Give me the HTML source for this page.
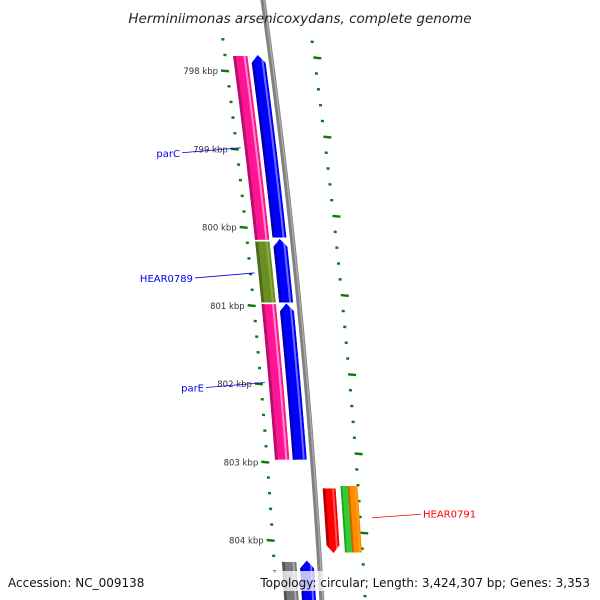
<!DOCTYPE html>
<html><head><meta charset="utf-8"><style>
html,body{margin:0;padding:0;background:#fff;}
svg{display:block;font-family:"DejaVu Sans","Liberation Sans",sans-serif;}
</style></head><body>
<svg id="map" width="600" height="600" viewBox="0 0 600 600">
<defs id="defs"></defs>
<g id="layer"></g>
<text x="300" y="23" text-anchor="middle" font-size="13.5" font-style="italic" fill="#222">Herminiimonas arsenicoxydans, complete genome</text>
<rect x="4" y="571" width="142" height="20" fill="#fff" fill-opacity="0.75"/>
<text x="8" y="587" font-size="12" fill="#111">Accession: NC_009138</text>
<rect x="258" y="571" width="336" height="20" fill="#fff" fill-opacity="0.75"/>
<text x="590" y="587" text-anchor="end" font-size="12" fill="#111">Topology: circular; Length: 3,424,307 bp; Genes: 3,353</text>
</svg>
<script>
// Data
const majorTicksKbp = [798, 799, 800, 801, 802, 803, 804];
const tickLabels = ["798 kbp", "799 kbp", "800 kbp", "801 kbp", "802 kbp", "803 kbp", "804 kbp"];
const featureNames = ["pink-gene-parC", "blue-gene-1", "gene-HEAR0789", "blue-gene-2", "pink-gene-parE", "blue-gene-3", "gray-gene", "blue-gene-4", "gene-HEAR0791", "green-gene", "orange-gene"];
const featureStart = [797.815, 797.80, 800.185, 800.15, 800.985, 800.975, 804.28, 804.26, 803.34, 803.31, 803.31];
const featureEnd = [800.165, 800.135, 800.965, 800.965, 802.975, 802.975, 804.95, 804.95, 804.17, 804.16, 804.16];
const featureStrand = [0, 1, 0, 1, 0, 1, 0, 1, -1, 0, 0];
const featureLane = [0, 1, 0, 1, 0, 1, 0, 1, 2, 3, 4];
const featureBase = ["#ff1493", "#0000ff", "#6b8e23", "#0000ff", "#ff1493", "#0000ff", "#777777", "#0000ff", "#ff0000", "#32cd32", "#ff8c00"];
const featureDark = ["#b8106a", "#0000b0", "#4e6a1a", "#0000b0", "#b8106a", "#0000b0", "#555555", "#0000b0", "#b00000", "#1e9a1e", "#c06a00"];
const featureLight = ["#ff8cc8", "#6a6aff", "#8aaa40", "#6a6aff", "#ff8cc8", "#6a6aff", "#aaaaaa", "#6a6aff", "#ff5a5a", "#32cd32", "#ffa020"];
const labelTexts = ["parC", "HEAR0789", "parE", "HEAR0791"];
const labelKbp = [799.0, 800.60, 802.0, 803.69];
const labelColors = ["#0000ee", "#0000ee", "#0000ee", "#ff0000"];

// Axis functions
const yK = k => 70.5 + (k - 798) * 78.25;
const off = y => 0.14 * y - 0.00007 * y * y;
const laneBase = [225.4, 243.2, 271, 289, 296];
const laneWidth = [14.5, 14, 13, 8, 10];
const NS = "http://www.w3.org/2000/svg";
const layer = document.getElementById("layer");
const defs = document.getElementById("defs");
function mk(tag, attrs, parent) { const e = document.createElementNS(NS, tag); for (const k in attrs) e.setAttribute(k, attrs[k]); (parent || layer).appendChild(e); return e; }

// backbone
let d = "";
for (let y = -5; y <= 605; y += 5) d += (y === -5 ? "M" : "L") + (263 + off(y)).toFixed(2) + "," + y + " ";
const bb = mk("path", { d: d, stroke: "#808080", "stroke-width": 5, fill: "none" });


const bb2 = mk("path", { d: d, stroke: "#a8a8a8", "stroke-width": 1.5, fill: "none", transform: "translate(1,0)" });



// ticks
for (let k = 797.6; k <= 805.01; k += 0.2) {
  const kk = Math.round(k * 10) / 10;
  const major = Math.abs(kk - Math.round(kk)) < 0.01;
  const y = yK(kk);
  if (y > 36 && y < 600) {
    const x = 217.5 + off(y);
    const t = mk("line", { x1: major ? x - 6 : x - 1.5, x2: major ? x + 2 : x + 1.5, y1: y, y2: y + (major ? 0.8 : 0.3), stroke: "#0a7a0a", "stroke-width": 2.4 });
    
    
  }
  const yR = y - 13 + (y - 70) * 0.012;
  if (yR > 36 && yR < 600) {
    const xr = 306.5 + off(yR);
    const t2 = mk("line", { x1: major ? xr - 1 : xr - 1.5, x2: major ? xr + 7 : xr + 1.5, y1: yR, y2: yR + (major ? 0.8 : 0.3), stroke: "#0a7a0a", "stroke-width": 2.4 });
    
    
  }
}
majorTicksKbp.forEach((k, i) => {
  const y = yK(k);
  const t = mk("text", { x: 217.5 + off(y) - 9, y: y + 3.5, "text-anchor": "end", "font-size": 8.5, fill: "#333" });
  t.textContent = tickLabels[i];
  
  
});

function band(b, f0, f1, w, y0, y1) {
  const pts = [];
  for (let y = y0; y <= y1 + 0.01; y += 10) pts.push([b + f0 * w + off(Math.min(y, y1)), Math.min(y, y1)]);
  pts.push([b + f0 * w + off(y1), y1]);
  pts.push([b + f1 * w + off(y1), y1]);
  for (let y = y1; y >= y0 - 0.01; y -= 10) pts.push([b + f1 * w + off(Math.max(y, y0)), Math.max(y, y0)]);
  pts.push([b + f1 * w + off(y0), y0]);
  return pts.map(q => q[0].toFixed(2) + "," + q[1].toFixed(2)).join(" ");
}

// features
featureStart.forEach((s, i) => {
  const y0 = Math.max(yK(s), -10), y1 = Math.min(yK(featureEnd[i]), 610);
  const b = laneBase[featureLane[i]], w = laneWidth[featureLane[i]];
  const L = y => b + off(y), R = y => b + w + off(y);
  const pts = [];
  const head = 8;
  const st = featureStrand[i];
  const top = st === 1 ? y0 + head : y0;
  const bot = st === -1 ? y1 - head : y1;
  if (st === 1) pts.push([(L(y0) + R(y0)) / 2, y0]);
  for (let y = top; y < bot; y += 10) pts.push([R(y), y]);
  pts.push([R(bot), bot]);
  if (st === -1) pts.push([(L(y1) + R(y1)) / 2, y1]);
  pts.push([L(bot), bot]);
  for (let y = bot - 10; y > top; y -= 10) pts.push([L(y), y]);
  pts.push([L(top), top]);
  const ptsStr = pts.map(q => q[0].toFixed(2) + "," + q[1].toFixed(2)).join(" ");
  const cp = mk("clipPath", { id: "clip" + i }, defs);
  mk("polygon", { points: ptsStr }, cp);
  const g = mk("g", { "clip-path": "url(#clip" + i + ")" });
  
  
  mk("polygon", { points: ptsStr, fill: featureBase[i] }, g);
  mk("polygon", { points: band(b, -0.1, 0.2, w, y0 - 2, y1 + 2), fill: featureDark[i] }, g);
  mk("polygon", { points: band(b, 0.72, 0.86, w, y0 - 2, y1 + 2), fill: featureLight[i] }, g);
});

// labels
labelTexts.forEach((t, i) => {
  const y = yK(labelKbp[i]);
  let ln, tx;
  if (i < 3) {
    const xEnd = 217.5 + off(y) + 4;
    const ty = y + 5;
    const xs = [182, 195, 206][i];
    ln = mk("line", { x1: xs, y1: ty - 1, x2: xEnd, y2: y - 1, stroke: labelColors[i], "stroke-width": 0.8 });
    tx = mk("text", { x: xs - 2, y: ty + 3, "text-anchor": "end", "font-size": 10, fill: labelColors[i] });
  } else {
    ln = mk("line", { x1: 372, y1: y + 2, x2: 421, y2: y - 1.5, stroke: labelColors[i], "stroke-width": 0.8 });
    tx = mk("text", { x: 423, y: y + 2, "font-size": 10, fill: labelColors[i] });
  }
  tx.textContent = t;
  
  
  
  
});
</script>
</body></html>
